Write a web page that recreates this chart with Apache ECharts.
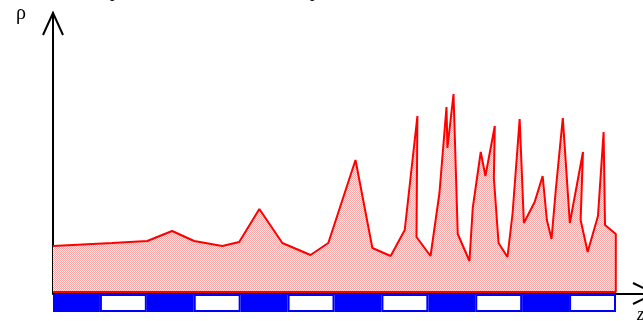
<!DOCTYPE html>
<html><head><meta charset="utf-8">
<script src="https://cdn.jsdelivr.net/npm/echarts/dist/echarts.min.js"></script>
<style>html,body{margin:0;padding:0;background:#fff}#c{width:643px;height:321px}</style>
</head><body><div id="c"></div>
<script>
// profile along z (segment units) and density rho (arbitrary units)
const zValues = [0, 1.26, 2.01, 2.54, 3.01, 3.61, 3.97, 4.40, 4.89, 5.49, 5.87, 6.45, 6.81, 7.20, 7.50, 7.77, 7.75, 8.05, 8.24, 8.39, 8.41, 8.54, 8.63, 8.88, 8.95, 9.12, 9.22, 9.42, 9.40, 9.50, 9.69, 9.80, 9.95, 10.04, 10.27, 10.44, 10.53, 10.63, 10.72, 10.87, 11.02, 11.30, 11.25, 11.40, 11.62, 11.74, 11.77, 12.00, 12.00, 0];
const rhoValues = [46, 49, 51, 61, 51, 46, 50, 83, 49, 37, 49, 132, 44, 36, 62, 176, 55, 36, 99, 185, 144, 198, 58, 31, 84, 140, 116, 166, 114, 49, 35, 79, 173, 69, 90, 116, 72, 53, 102, 174, 69, 140, 72, 40, 76, 160, 67, 58, 0, 0];
// alternating layer strip under the axis (1 = blue, 0 = white)
const stripePattern = [1, 0, 1, 0, 1, 0, 1, 0, 1, 0, 1, 0];
const stripeLabels = ['1','2','3','4','5','6','7','8','9','10','11','12'];
const axisLabelRho = 'ρ';
const axisLabelZ = 'z';

const pc = document.createElement('canvas');
pc.width = 2; pc.height = 2;
const g = pc.getContext('2d');
g.fillStyle = '#ffeaea'; g.fillRect(0, 0, 2, 2);
g.fillStyle = '#ffa6a6'; g.fillRect(0, 0, 1, 1); g.fillRect(1, 1, 1, 1);

const chart = echarts.init(document.getElementById('c'), null, {renderer: 'canvas'});
chart.setOption({
  animation: false,
  backgroundColor: '#ffffff',
  grid: [
    {left: 53, right: 0, top: 13, bottom: 27.5},
    {left: 53, right: 27, top: 294, height: 18}
  ],
  xAxis: [
    {gridIndex: 0, type: 'value', min: 0, max: 12.58,
     axisLine: {show: true, onZero: false, lineStyle: {color: '#000', width: 2}},
     axisTick: {show: false}, axisLabel: {show: false}, splitLine: {show: false}},
    {gridIndex: 1, type: 'category', data: stripeLabels, show: false}
  ],
  yAxis: [
    {gridIndex: 0, type: 'value', min: -1.5, max: 279,
     axisLine: {show: true, lineStyle: {color: '#000', width: 2}},
     axisTick: {show: false}, axisLabel: {show: false}, splitLine: {show: false}},
    {gridIndex: 1, type: 'value', min: 0, max: 1, show: false}
  ],
  series: [
    {type: 'line', xAxisIndex: 0, yAxisIndex: 0, z: 3,
     data: zValues.map((z, i) => [z, rhoValues[i]]),
     symbol: 'none', lineStyle: {color: '#ff0000', width: 2},
     areaStyle: {color: {image: pc, repeat: 'repeat'}, opacity: 1}},
    {type: 'bar', xAxisIndex: 1, yAxisIndex: 1, barWidth: '100%', barCategoryGap: '0%', z: 1,
     data: stripePattern.map(v => ({value: 1, itemStyle: v ?
       {color: '#0000ff', borderColor: '#0000ff', borderWidth: 0} :
       {color: '#ffffff', borderColor: '#0000ff', borderWidth: 2}}))}
  ],
  graphic: [
    {type: 'polyline', shape: {points: [[43, 35], [53, 13], [63, 35]]}, style: {stroke: '#000', lineWidth: 2, fill: null}, z: 10},
    {type: 'polyline', shape: {points: [[633, 283], [655, 293.5], [633, 304]]}, style: {stroke: '#000', lineWidth: 2, fill: null}, z: 10},
    {type: 'text', left: 16, top: 4, style: {text: axisLabelRho, font: '20px "Liberation Serif", "DejaVu Serif", serif', fill: '#000'}, z: 10},
    {type: 'text', left: 637, top: 306, style: {text: axisLabelZ, font: 'italic 18px "Liberation Serif", serif', fill: '#000'}, z: 10},
    {type: 'text', left: 110, top: -16.5, style: {text: 'p', font: '18px "Liberation Serif", serif', fill: '#000'}, z: 10},
    {type: 'text', left: 310, top: -16.5, style: {text: 'p', font: '18px "Liberation Serif", serif', fill: '#000'}, z: 10}
  ]
});
</script>
</body></html>
